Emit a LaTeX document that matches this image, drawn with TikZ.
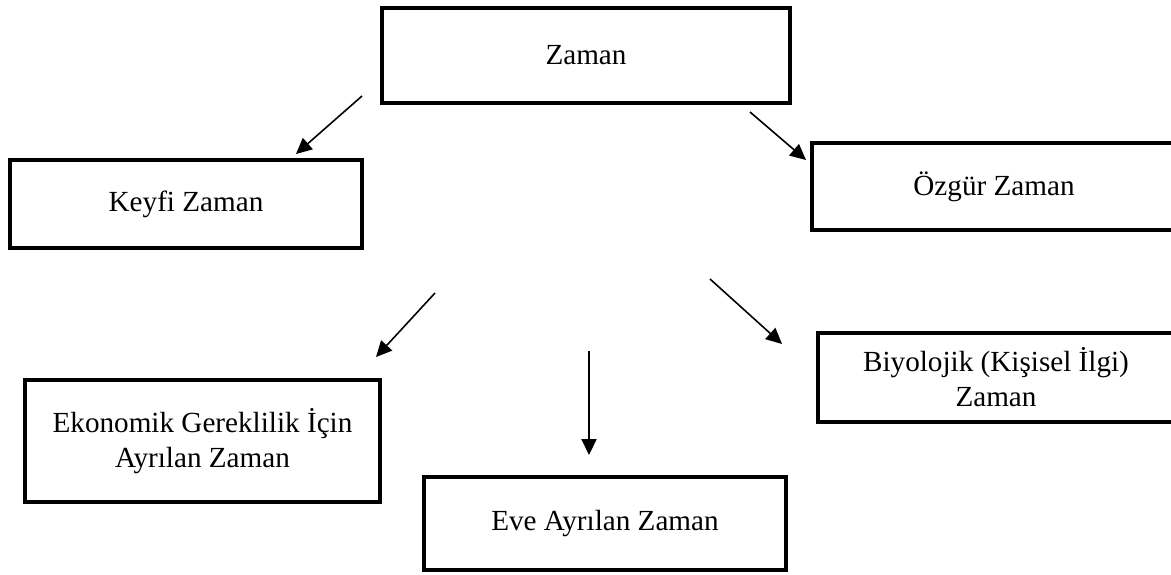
\documentclass[tikz,border=0pt]{standalone}
\usepackage{fontspec}
\setmainfont{Liberation Serif}
\usetikzlibrary{arrows.meta}

\begin{document}
\begin{tikzpicture}[
    kutu/.style={rectangle, draw, line width=2.5pt, align=center,
      font=\fontsize{16.6}{20}\selectfont},
    ok/.style={-{Triangle[length=9pt,width=8.5pt]}, line width=0.9pt}]

        \useasboundingbox (0,0) rectangle (23.42,-11.48);
        \clip (0,0) rectangle (23.42,-11.48);

        \begin{scope}[every node/.style={kutu}]
          \node[minimum width=8.16cm, minimum height=1.90cm] (zaman) at (11.72,-1.11)  {Zaman};
          \node[minimum width=7.04cm, minimum height=1.76cm] (keyfi) at (3.72,-4.08)   {Keyfi Zaman};
          \node[minimum width=7.28cm, minimum height=1.74cm] (ozgur) at (19.88,-3.73)  {Özgür Zaman};
          \node[minimum width=7.12cm, minimum height=1.78cm] (biyo)  at (19.92,-7.55)  {Biyolojik (Kişisel İlgi)\\Zaman};
          \node[minimum width=7.10cm, minimum height=2.44cm] (ekon)  at (4.05,-8.82)   {Ekonomik Gereklilik İçin\\Ayrılan Zaman};
          \node[minimum width=7.24cm, minimum height=1.86cm] (eve)   at (12.10,-10.47) {Eve Ayrılan Zaman};
        \end{scope}

        % ok uclari
        \coordinate (a1) at (7.24,-1.92);  \coordinate (b1) at (5.92,-3.08);
        \coordinate (a2) at (15.00,-2.24); \coordinate (b2) at (16.12,-3.20);
        \coordinate (a3) at (8.70,-5.86);  \coordinate (b3) at (7.52,-7.14);
        \coordinate (a4) at (11.78,-7.02); \coordinate (b4) at (11.78,-9.10);
        \coordinate (a5) at (14.20,-5.58); \coordinate (b5) at (15.64,-6.88);

        \begin{scope}[every edge/.style={draw, ok}]
          \path (a1) edge (b1);
          \path (a2) edge (b2);
          \path (a3) edge (b3);
          \path (a4) edge (b4);
          \path (a5) edge (b5);
        \end{scope}

      \end{tikzpicture}
\end{document}
